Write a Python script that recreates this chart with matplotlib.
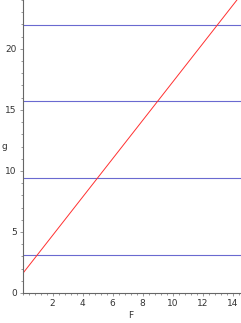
import numpy as np
import matplotlib

matplotlib.use('agg')
import matplotlib.pyplot as plt
from matplotlib.ticker import MultipleLocator

# g = (F + 1) * pi / 2 against the levels g = pi, 3pi, 5pi, 7pi
F_vals = np.array([0.0, 14.6])
g_vals = (F_vals + 1) * np.pi / 2
levels = [np.pi, 3 * np.pi, 5 * np.pi, 7 * np.pi]

x_ticks = [2, 4, 6, 8, 10, 12, 14]
y_ticks = [0, 5, 10, 15, 20]

W, H = 241, 323
fig = plt.figure(figsize=(W / 100, H / 100), dpi=100)
ax = fig.add_axes([22.5 / W, 30 / H, 1 - 22.5 / W, 1 - 30 / H])

for lv in levels:
    ax.axhline(lv, color='#6a6ad0', lw=0.8)
ax.plot(F_vals, g_vals, color='#ff3030', lw=0.7)

ax.set_xlim(0, 14.55)
ax.set_ylim(0, 24)
for s in ['top', 'right']:
    ax.spines[s].set_visible(False)
for s in ['left', 'bottom']:
    ax.spines[s].set_color('#666666')
    ax.spines[s].set_linewidth(0.8)

ax.set_xticks(x_ticks)
ax.set_yticks(y_ticks)
ax.xaxis.set_minor_locator(MultipleLocator(0.4))
ax.yaxis.set_minor_locator(MultipleLocator(1))
ax.tick_params(which='both', colors='#888888', labelcolor='#333333', labelsize=6.5, width=0.6)
ax.tick_params(which='major', length=2.5, pad=1.5)
ax.tick_params(which='minor', length=1.5)

fig.text(4 / W, 1 - 147 / H, 'g', fontsize=6.5, color='#333333', ha='center', va='center')
fig.text(131 / W, 1 - 316 / H, 'F', fontsize=6.5, color='#333333', ha='center', va='center')

fig.savefig('out.png', dpi=100)
